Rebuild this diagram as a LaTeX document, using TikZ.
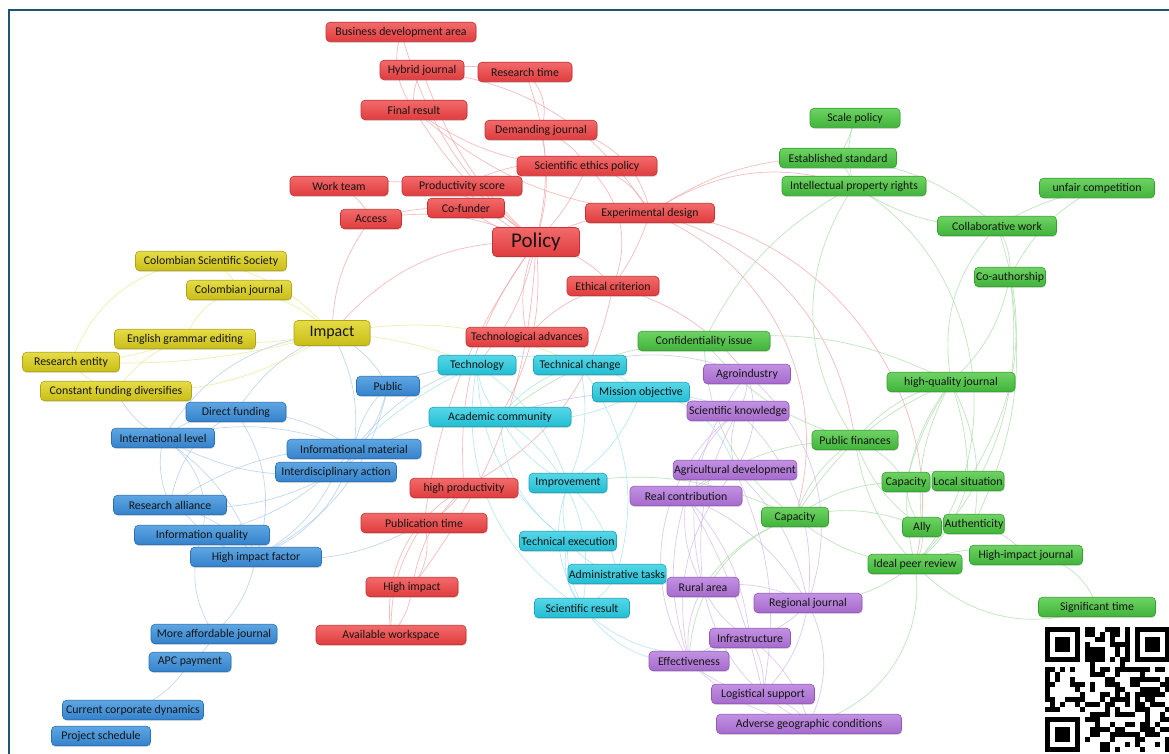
\documentclass[tikz,border=0pt]{standalone}
\usepackage{fontspec}
\setmainfont{Carlito}
\usetikzlibrary{shadows}
\pgfdeclarelayer{bgzero}
\pgfdeclarelayer{background}
\pgfsetlayers{bgzero,background,main}
\definecolor{frame}{HTML}{1D5475}
\definecolor{txt}{HTML}{151515}
\definecolor{rdT}{HTML}{F26A6A}\definecolor{rdB}{HTML}{E03C3E}\definecolor{rdD}{HTML}{C43234}
\definecolor{gnT}{HTML}{6FD264}\definecolor{gnB}{HTML}{3FB43A}\definecolor{gnD}{HTML}{35A030}
\definecolor{cyT}{HTML}{55D8E8}\definecolor{cyB}{HTML}{23BCD2}\definecolor{cyD}{HTML}{1AA5BA}
\definecolor{puT}{HTML}{C292E2}\definecolor{puB}{HTML}{A56ACC}\definecolor{puD}{HTML}{9158BB}
\definecolor{blT}{HTML}{5EA6E2}\definecolor{blB}{HTML}{3482CC}\definecolor{blD}{HTML}{2A70B5}
\definecolor{yeT}{HTML}{E6DC45}\definecolor{yeB}{HTML}{C8BD18}\definecolor{yeD}{HTML}{B0A610}
\definecolor{eRc}{HTML}{F0A0A2}\definecolor{eGc}{HTML}{A5DCA0}\definecolor{eBc}{HTML}{A8C8EA}
\definecolor{eCc}{HTML}{9EE0EC}\definecolor{ePc}{HTML}{D0B4E8}\definecolor{eYc}{HTML}{EBE58A}
\tikzset{
  box/.style={rounded corners=4pt, draw, line width=0.6pt, minimum height=19.5pt, inner sep=1pt,
    font=\fontsize{11.8}{13}\selectfont, text=txt,
    drop shadow={opacity=0.25, shadow xshift=0.6pt, shadow yshift=-1.2pt}},
  rd/.style={box, top color=rdT, bottom color=rdB, draw=rdD},
  gn/.style={box, top color=gnT, bottom color=gnB, draw=gnD},
  cy/.style={box, top color=cyT, bottom color=cyB, draw=cyD},
  pu/.style={box, top color=puT, bottom color=puB, draw=puD},
  bl/.style={box, top color=blT, bottom color=blB, draw=blD},
  ye/.style={box, top color=yeT, bottom color=yeB, draw=yeD},
  edg/.style={line width=0.7pt, opacity=0.7},
  eR/.style={edg, draw=eRc}, eG/.style={edg, draw=eGc}, eB/.style={edg, draw=eBc},
  eC/.style={edg, draw=eCc}, eP/.style={edg, draw=ePc}, eY/.style={edg, draw=eYc}
}
\begin{document}
\begin{tikzpicture}[x=1pt,y=-1pt]
\useasboundingbox (0,0) rectangle (1169,754);
\begin{pgfonlayer}{bgzero}
\fill[white] (0,0) rectangle (1169,754);
\draw[frame, line width=2pt] (9,754) -- (9,10) -- (1169,10);
\end{pgfonlayer}

% ---------- red cluster
\node[rd, minimum width=150pt] (bda) at (401,32) {Business development area};
\node[rd, minimum width=84pt] (hyb) at (422,70) {Hybrid journal};
\node[rd, minimum width=94pt] (rtm) at (525,72) {Research time};
\node[rd, minimum width=106pt] (frs) at (414,110) {Final result};
\node[rd, minimum width=112pt] (dmj) at (541,130) {Demanding journal};
\node[rd, minimum width=140pt] (sep) at (587,166) {Scientific ethics policy};
\node[rd, minimum width=98pt] (wtm) at (339,186) {Work team};
\node[rd, minimum width=120pt] (prs) at (462,186) {Productivity score};
\node[rd, minimum width=77pt] (cof) at (466,208) {Co-funder};
\node[rd, minimum width=61pt] (acc) at (371,219) {Access};
\node[rd, minimum width=129pt] (exd) at (650,213) {Experimental design};
\node[rd, minimum width=87pt, minimum height=29pt, font=\fontsize{21}{23}\selectfont] (pol) at (536,242) {Policy};
\node[rd, minimum width=92pt] (ecr) at (613,286) {Ethical criterion};
\node[rd, minimum width=122pt] (tad) at (527,337) {Technological advances};
\node[rd, minimum width=108pt] (hpr) at (464,488) {high productivity};
\node[rd, minimum width=126pt] (put) at (424,523) {Publication time};
\node[rd, minimum width=92pt] (him) at (412,587) {High impact};
\node[rd, minimum width=150pt] (avw) at (391,635) {Available workspace};

% ---------- green cluster
\node[gn, minimum width=90pt] (scp) at (855,118) {Scale policy};
\node[gn, minimum width=117pt] (est) at (838,158) {Established standard};
\node[gn, minimum width=144pt] (ipr) at (854,186) {Intellectual property rights};
\node[gn, minimum width=115pt] (ufc) at (1097,188) {unfair competition};
\node[gn, minimum width=119pt] (clw) at (997,226) {Collaborative work};
\node[gn, minimum width=71pt] (cau) at (1010,277) {Co-authorship};
\node[gn, minimum width=132pt] (cnf) at (704,341) {Confidentiality issue};
\node[gn, minimum width=128pt] (hqj) at (951,382) {high-quality journal};
\node[gn, minimum width=86pt] (pfi) at (855,440) {Public finances};
\node[gn, minimum width=48pt] (cp2) at (906,482) {Capacity};
\node[gn, minimum width=72pt] (lsi) at (968,481) {Local situation};
\node[gn, minimum width=39pt] (aly) at (922,527) {Ally};
\node[gn, minimum width=60pt] (aut) at (974,524) {Authenticity};
\node[gn, minimum width=94pt] (ipe) at (915,564) {Ideal peer review};
\node[gn, minimum width=113pt] (hij) at (1026,555) {High-impact journal};
\node[gn, minimum width=117pt] (sgt) at (1097,607) {Significant time};
\node[gn, minimum width=67pt] (cp1) at (795,517) {Capacity};

% ---------- cyan cluster
\node[cy, minimum width=78pt] (tcy) at (477,365) {Technology};
\node[cy, minimum width=93pt] (tch) at (580,365) {Technical change};
\node[cy, minimum width=97pt] (mob) at (641,392) {Mission objective};
\node[cy, minimum width=142pt] (acm) at (500,417) {Academic community};
\node[cy, minimum width=78pt] (imv) at (568,483) {Improvement};
\node[cy, minimum width=97pt] (tex) at (568,541) {Technical execution};
\node[cy, minimum width=98pt] (adt) at (617,574) {Administrative tasks};
\node[cy, minimum width=95pt] (srs) at (582,608) {Scientific result};

% ---------- purple cluster
\node[pu, minimum width=87pt] (agi) at (747,374) {Agroindustry};
\node[pu, minimum width=102pt] (skn) at (738,411) {Scientific knowledge};
\node[pu, minimum width=119pt] (agd) at (735,470) {Agricultural development};
\node[pu, minimum width=112pt] (rco) at (686,496) {Real contribution};
\node[pu, minimum width=72pt] (rua) at (703,587) {Rural area};
\node[pu, minimum width=108pt] (rjo) at (808,603) {Regional journal};
\node[pu, minimum width=81pt] (inf) at (750,638) {Infrastructure};
\node[pu, minimum width=80pt] (eff) at (689,661) {Effectiveness};
\node[pu, minimum width=103pt] (lsp) at (763,694) {Logistical support};
\node[pu, minimum width=185pt] (agc) at (809,724) {Adverse geographic conditions};

% ---------- blue cluster
\node[bl, minimum width=63pt] (pub) at (388,386) {Public};
\node[bl, minimum width=100pt] (dfu) at (236,412) {Direct funding};
\node[bl, minimum width=103pt] (ilv) at (163,438) {International level};
\node[bl, minimum width=134pt] (ima) at (354,449) {Informational material};
\node[bl, minimum width=121pt] (iac) at (336,472) {Interdisciplinary action};
\node[bl, minimum width=113pt] (ral) at (170,505) {Research alliance};
\node[bl, minimum width=135pt] (iqu) at (202,535) {Information quality};
\node[bl, minimum width=131pt] (hif) at (256,557) {High impact factor};
\node[bl, minimum width=126pt] (maj) at (214,634) {More affordable journal};
\node[bl, minimum width=82pt] (apc) at (190,662) {APC payment};
\node[bl, minimum width=141pt] (ccd) at (133,710) {Current corporate dynamics};
\node[bl, minimum width=99pt] (psc) at (101,736) {Project schedule};

% ---------- yellow cluster
\node[ye, minimum width=151pt] (css) at (211,261) {Colombian Scientific Society};
\node[ye, minimum width=105pt] (cjo) at (239,290) {Colombian journal};
\node[ye, minimum width=76pt, minimum height=25pt, font=\fontsize{16}{18}\selectfont] (imp) at (332,333) {Impact};
\node[ye, minimum width=141pt] (ege) at (185,339) {English grammar editing};
\node[ye, minimum width=97pt] (ren) at (71,362) {Research entity};
\node[ye, minimum width=151pt] (cfd) at (116,391) {Constant funding diversifies};

% ---------- connectors (third field: bend angle, negative = bend right)
\begin{pgfonlayer}{background}
\foreach \a/\b/\k [evaluate=\k as \kk using 1.7*\k] in {pol/bda/10, pol/hyb/8, pol/rtm/-10, pol/frs/6,
  pol/dmj/-8, pol/sep/-6, pol/prs/5, pol/cof/5, pol/acc/-10,
  pol/exd/8, pol/ecr/10, pol/tad/-10, pol/hpr/-12, pol/put/-8,
  pol/wtm/-15, pol/imp/-15, pol/acm/10, pol/tcy/8, pol/him/10,
  bda/frs/-15, hyb/rtm/5, hyb/frs/-10, rtm/dmj/20, frs/sep/-10,
  dmj/sep/10, dmj/exd/25, sep/exd/15, hyb/exd/15, frs/exd/-10,
  prs/sep/10, wtm/acc/10, cof/acc/-5, exd/ipr/15, exd/est/10,
  exd/ecr/5, exd/cp1/25, exd/pfi/20, ecr/hpr/15, ecr/tad/-10,
  hpr/put/10, hpr/him/-10, put/him/15, put/avw/-10, him/avw/10,
  hpr/avw/-20, acc/imp/-10, exd/ipe/30, ecr/agi/10, sep/ecr/20}
  \draw[eR] (\a.center) to[bend left=\kk] (\b.center);
\foreach \a/\b/\k [evaluate=\k as \kk using 1.7*\k] in {scp/ipr/-10, scp/est/5, est/ipr/5, est/clw/10,
  ipr/clw/-10, clw/cau/10, clw/ufc/5, ufc/cau/-10, cau/hqj/10,
  clw/hqj/-15, clw/lsi/15, cau/aut/10, hqj/pfi/-10, hqj/cp2/-5,
  hqj/lsi/5, hqj/aly/-10, hqj/aut/10, hqj/ipe/-15, hqj/cp1/-10,
  hqj/cnf/-10, pfi/cp2/10, pfi/aly/-10, pfi/ipe/-10, pfi/cp1/-10,
  cp2/lsi/20, cp2/aly/-10, aly/aut/10, aly/ipe/10, aut/hij/10,
  ipe/hij/10, hij/sgt/20, ipe/sgt/-20, cp1/ipe/-10, cp1/aly/10,
  cp1/cp2/10, cnf/cp1/-15, cnf/pfi/-10, cnf/ipr/10, ipr/pfi/-20,
  ipr/ipe/30, cnf/acm/-10, cp1/eff/-20, cp1/rua/-10, ipe/rjo/10,
  cp1/imv/-10, ipe/agc/25, pfi/rco/-10, cau/ipe/15, lsi/ipe/10}
  \draw[eG] (\a.center) to[bend left=\kk] (\b.center);
\foreach \a/\b/\k [evaluate=\k as \kk using 1.7*\k] in {imp/pub/10, imp/dfu/-10, imp/ilv/-15, imp/ima/10,
  pub/ima/-10, pub/iac/10, pub/hif/15, dfu/ima/10, dfu/ilv/-10,
  dfu/ral/-15, dfu/hif/15, ilv/ral/-10, ilv/iqu/20, ilv/ima/10,
  ilv/iac/-10, ilv/hif/10, ral/iqu/10, ral/ima/10, ral/iac/-10,
  iqu/hif/-5, iqu/ima/-10, hif/iac/-10, hif/ima/-15, hif/maj/10,
  iqu/maj/-15, maj/apc/10, apc/ccd/10, ima/iac/10, ima/tcy/10,
  hif/put/-10, iac/acm/10, ral/hif/10, pub/tcy/5, ilv/cfd/10}
  \draw[eB] (\a.center) to[bend left=\kk] (\b.center);
\foreach \a/\b/\k [evaluate=\k as \kk using 1.7*\k] in {tcy/tch/10, tcy/acm/-10, tcy/imv/10, tch/mob/10,
  tch/acm/-10, mob/acm/10, acm/imv/-10, imv/tex/-10, imv/adt/10,
  imv/srs/-15, tex/srs/-15, adt/srs/10, tcy/srs/-20, tch/imv/10,
  mob/imv/10, acm/tex/-15, tcy/tex/-15, adt/tex/10, mob/skn/5,
  tch/adt/15, acm/srs/20, tcy/ima/-5, mob/agd/20, tex/eff/-30,
  srs/inf/-20}
  \draw[eC] (\a.center) to[bend left=\kk] (\b.center);
\foreach \a/\b/\k [evaluate=\k as \kk using 1.7*\k] in {agi/skn/10, agi/agd/15, skn/agd/-10, skn/rco/-10,
  agd/rco/-10, rco/rua/-10, rco/rjo/10, rco/inf/10, rua/rjo/10,
  rua/inf/-10, rua/eff/-10, rjo/inf/10, inf/eff/-10, inf/lsp/10,
  eff/lsp/-10, lsp/agc/10, rjo/agc/15, inf/agc/10, skn/rjo/15,
  agi/rjo/20, agd/eff/-15, rco/eff/-10, rua/agc/-15, skn/rua/-10,
  rjo/lsp/10, eff/agc/-10, agd/rjo/10, agi/rua/-15, agd/lsp/10,
  rco/lsp/5, skn/eff/-25, agi/tch/-10, skn/acm/-10}
  \draw[eP] (\a.center) to[bend left=\kk] (\b.center);
\foreach \a/\b/\k [evaluate=\k as \kk using 1.7*\k] in {imp/css/-10, imp/cjo/-10, imp/ege/5, imp/ren/5,
  imp/cfd/10, cjo/ege/-15, css/cjo/10, ege/ren/5, ren/cfd/-10,
  cfd/ege/10, imp/tcy/5, imp/tch/10, css/ren/-20}
  \draw[eY] (\a.center) to[bend left=\kk] (\b.center);
\end{pgfonlayer}

% ---------- QR code
\fill[white] (1040,622) rectangle (1169,754);
\pgfmathsetseed{4242}
\foreach \i in {0,...,24}{\foreach \j in {0,...,24}{
  \pgfmathtruncatemacro\qon{(((\i<8)&&(\j<8)) || ((\i>16)&&(\j<8)) || ((\i<8)&&(\j>16))) ? 0 : (rnd<0.5 ? 1 : 0)}
  \ifnum\qon=1 \fill[black] ({1045+5*\i},{627+5*\j}) rectangle +(5,5);\fi
}}
\foreach \ox/\oy in {1045/627, 1135/627, 1045/717}{
  \fill[black] (\ox,\oy) rectangle +(35,35);
  \fill[white] (\ox+5,\oy+5) rectangle +(25,25);
  \fill[black] (\ox+10,\oy+10) rectangle +(15,15);
}
\end{tikzpicture}
\end{document}
